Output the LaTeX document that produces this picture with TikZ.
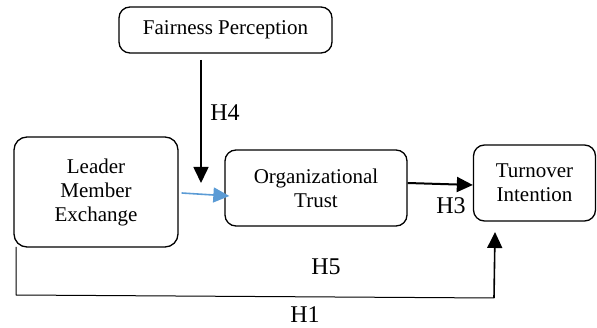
\documentclass[tikz,border=0pt]{standalone}
\usepackage{fontspec}
\setmainfont{Liberation Serif}
\usepackage{tikz}
\usetikzlibrary{positioning,arrows.meta}
\definecolor{lmxblue}{HTML}{5B9BD5}

\begin{document}
\begin{tikzpicture}[x=1pt,y=-1pt,
    box/.style={draw,rounded corners=11pt,line width=1.3pt,align=center,
        font=\fontsize{21}{24}\selectfont,inner sep=0pt},
    arr/.style={line width=1.6pt,-{Triangle[length=16pt,width=15pt]}},
    hyp/.style={font=\fontsize{24}{26}\selectfont,inner sep=0pt}]
            \useasboundingbox (0,0) rectangle (597,328);
            \node[box,minimum width=213pt,minimum height=46pt] (fp) at (225.5,30) {\raisebox{-3pt}{Fairness Perception}};
            \node[box,minimum width=164pt,minimum height=110pt,rounded corners=13pt] (lmx) at (96,192) {Leader\\Member\\Exchange};
            \node[box,minimum width=182pt,minimum height=76pt] (ot) at (316,188) {Organizational\\Trust};
            \node[box,minimum width=122pt,minimum height=76pt] (ti) at (534.5,183) {Turnover\\Intention};
            \coordinate (h4top) at (201,60);
            \coordinate (h4end) at (201,183);
            \coordinate (lmxleft) at (16,247);
            \coordinate (h1turn) at (494,298);
            \coordinate (h1end) at (495,232);
            % moderation arrow
            \draw[arr] (h4top) -- (h4end);
            \draw[arr,draw=lmxblue,fill=lmxblue] ([xshift=3pt,yshift=-1pt]lmx.east) -- ([xshift=5pt,yshift=-8pt]ot.west);
            \draw[arr,line width=2pt] ([yshift=5pt]ot.east) -- ([yshift=-2pt]ti.west);
            % direct path H1
            \draw[line width=1pt] (lmxleft) -- (16,295) -- (h1turn);
            \draw[arr] (h1turn) -- (h1end);
            \node[hyp] (h4) at (225,113) {H4};
            \node[hyp] (h3) at (451,206) {H3};
            \node[hyp] (h5) at (326,267) {H5};
            \node[hyp] (h1) at (305,315) {H1};
        \end{tikzpicture}
\end{document}
